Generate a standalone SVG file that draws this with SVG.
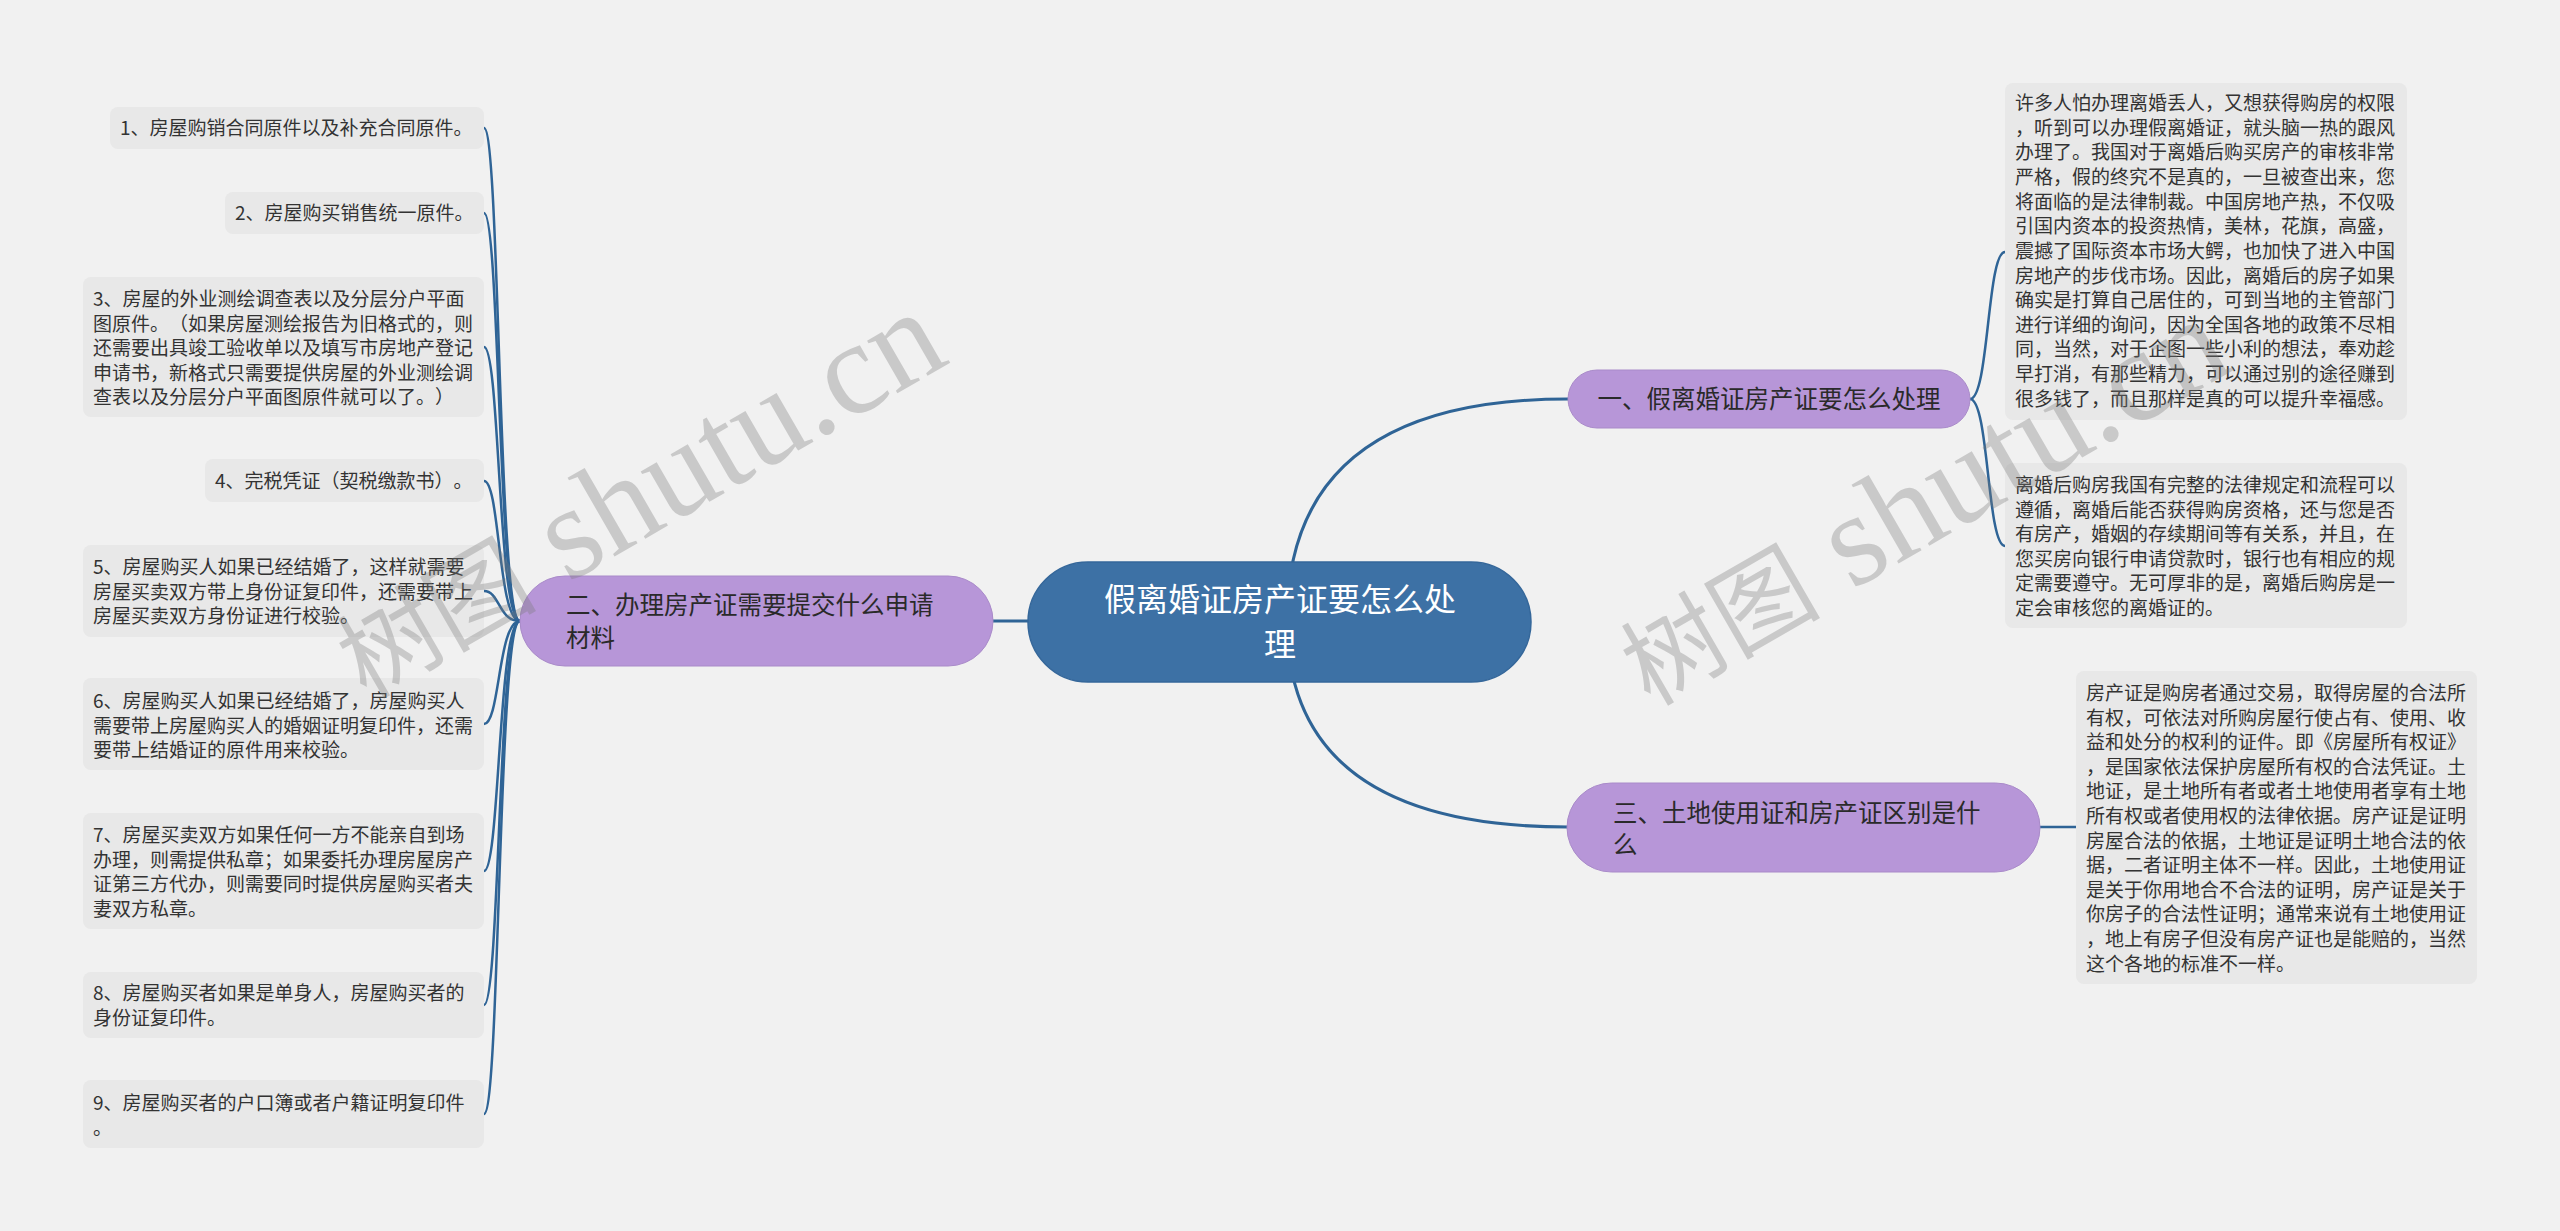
<svg xmlns="http://www.w3.org/2000/svg" width="2560" height="1231" viewBox="0 0 2560 1231">
<style>
text{text-spacing-trim:space-all}
.bg{fill:#f1f1f1}
.leaf rect{fill:#e8e8e8}
.leaf text{font-family:"Noto Sans CJK SC","Noto Sans",sans-serif;font-size:19px;fill:#333}
.l1 rect{fill:#b796d8;stroke:#a98ac9;stroke-width:1}
.l1 text{font-family:"Noto Sans CJK SC","Noto Sans",sans-serif;font-size:24.5px;fill:#2a2a2a}
.root rect{fill:#3d71a5;stroke:#35679a;stroke-width:1.5}
.root text{font-family:"Noto Sans CJK SC","Noto Sans",sans-serif;font-size:32px;fill:#ffffff;text-anchor:middle}
.conn path{fill:none;stroke:#2f6496;stroke-width:2.5}
.conn .main{stroke-width:3}
.wm{font-family:"Liberation Serif","Noto Sans CJK SC",serif;font-size:132px;fill:#7a7a7a;opacity:0.33}
</style>
<rect class="bg" x="0" y="0" width="2560" height="1231"/>

<g id="connectors" class="conn">
  <path class="main" d="M1287 621 Q1287 399 1568 399"/>
  <path class="main" d="M1287 621 Q1287 827 1568 827"/>
  <path class="main" d="M993 621 L1030 621"/>
  <path d="M520 621 C498 621 500 128 484 128"/>
  <path d="M520 621 C498 621 500 213 484 213"/>
  <path d="M520 621 C498 621 500 347 484 347"/>
  <path d="M520 621 C498 621 500 481 484 481"/>
  <path d="M520 621 C498 621 500 591 484 591"/>
  <path d="M520 621 C498 621 500 724 484 724"/>
  <path d="M520 621 C498 621 500 871 484 871"/>
  <path d="M520 621 C498 621 500 1005 484 1005"/>
  <path d="M520 621 C498 621 500 1114 484 1114"/>
  <path d="M1970 399 C1989 399 1987 252 2005 252"/>
  <path d="M1970 399 C1989 399 1987 546 2005 546"/>
  <path d="M2040 827 L2076 827"/>
</g>

<g id="root" class="root">
  <rect x="1028" y="562" width="503" height="120" rx="60"/>
  <text x="1280" y="611">假离婚证房产证要怎么处<tspan x="1280" dy="45">理</tspan></text>
</g>

<g id="n1" class="l1">
  <rect x="1568" y="370" width="402" height="58" rx="29"/>
  <text x="1769" y="408" text-anchor="middle">一、假离婚证房产证要怎么处理</text>
</g>
<g id="n2" class="l1">
  <rect x="520" y="576" width="473" height="90" rx="45"/>
  <text x="566" y="614">二、办理房产证需要提交什么申请<tspan x="566" dy="33">材料</tspan></text>
</g>
<g id="n3" class="l1">
  <rect x="1567" y="783" width="473" height="89" rx="44.5"/>
  <text x="1613" y="822">三、土地使用证和房产证区别是什<tspan x="1613" dy="32">么</tspan></text>
</g>

<g id="leaf1" class="leaf">
  <rect x="110" y="107" width="374" height="42" rx="8"/>
  <text x="120" y="135">1、房屋购销合同原件以及补充合同原件。</text>
</g>
<g id="leaf2" class="leaf">
  <rect x="225" y="192" width="259" height="42" rx="8"/>
  <text x="235" y="220">2、房屋购买销售统一原件。</text>
</g>
<g id="leaf3" class="leaf">
  <rect x="83" y="277" width="401" height="140" rx="8"/>
  <text x="93" y="306">3、房屋的外业测绘调查表以及分层分户平面<tspan x="93" dy="24.6">图原件。（如果房屋测绘报告为旧格式的，则</tspan><tspan x="93" dy="24.6">还需要出具竣工验收单以及填写市房地产登记</tspan><tspan x="93" dy="24.6">申请书，新格式只需要提供房屋的外业测绘调</tspan><tspan x="93" dy="24.6">查表以及分层分户平面图原件就可以了。）</tspan></text>
</g>
<g id="leaf4" class="leaf">
  <rect x="205" y="459" width="279" height="43" rx="8"/>
  <text x="215" y="488">4、完税凭证（契税缴款书）。</text>
</g>
<g id="leaf5" class="leaf">
  <rect x="83" y="545" width="401" height="92" rx="8"/>
  <text x="93" y="574">5、房屋购买人如果已经结婚了，这样就需要<tspan x="93" dy="24.6">房屋买卖双方带上身份证复印件，还需要带上</tspan><tspan x="93" dy="24.6">房屋买卖双方身份证进行校验。</tspan></text>
</g>
<g id="leaf6" class="leaf">
  <rect x="83" y="678" width="401" height="92" rx="8"/>
  <text x="93" y="708">6、房屋购买人如果已经结婚了，房屋购买人<tspan x="93" dy="24.6">需要带上房屋购买人的婚姻证明复印件，还需</tspan><tspan x="93" dy="24.6">要带上结婚证的原件用来校验。</tspan></text>
</g>
<g id="leaf7" class="leaf">
  <rect x="83" y="813" width="401" height="116" rx="8"/>
  <text x="93" y="842">7、房屋买卖双方如果任何一方不能亲自到场<tspan x="93" dy="24.6">办理，则需提供私章；如果委托办理房屋房产</tspan><tspan x="93" dy="24.6">证第三方代办，则需要同时提供房屋购买者夫</tspan><tspan x="93" dy="24.6">妻双方私章。</tspan></text>
</g>
<g id="leaf8" class="leaf">
  <rect x="83" y="972" width="401" height="66" rx="8"/>
  <text x="93" y="1000">8、房屋购买者如果是单身人，房屋购买者的<tspan x="93" dy="24.6">身份证复印件。</tspan></text>
</g>
<g id="leaf9" class="leaf">
  <rect x="83" y="1080" width="401" height="68" rx="8"/>
  <text x="93" y="1110">9、房屋购买者的户口簿或者户籍证明复印件<tspan x="93" dy="24.6">。</tspan></text>
</g>

<g id="leaf10" class="leaf">
  <rect x="2005" y="83" width="402" height="337" rx="8"/>
  <text x="2015" y="110">许多人怕办理离婚丢人，又想获得购房的权限<tspan x="2015" dy="24.65">，听到可以办理假离婚证，就头脑一热的跟风</tspan><tspan x="2015" dy="24.65">办理了。我国对于离婚后购买房产的审核非常</tspan><tspan x="2015" dy="24.65">严格，假的终究不是真的，一旦被查出来，您</tspan><tspan x="2015" dy="24.65">将面临的是法律制裁。中国房地产热，不仅吸</tspan><tspan x="2015" dy="24.65">引国内资本的投资热情，美林，花旗，高盛，</tspan><tspan x="2015" dy="24.65">震撼了国际资本市场大鳄，也加快了进入中国</tspan><tspan x="2015" dy="24.65">房地产的步伐市场。因此，离婚后的房子如果</tspan><tspan x="2015" dy="24.65">确实是打算自己居住的，可到当地的主管部门</tspan><tspan x="2015" dy="24.65">进行详细的询问，因为全国各地的政策不尽相</tspan><tspan x="2015" dy="24.65">同，当然，对于企图一些小利的想法，奉劝趁</tspan><tspan x="2015" dy="24.65">早打消，有那些精力，可以通过别的途径赚到</tspan><tspan x="2015" dy="24.65">很多钱了，而且那样是真的可以提升幸福感。</tspan></text>
</g>
<g id="leaf11" class="leaf">
  <rect x="2005" y="463" width="402" height="165" rx="8"/>
  <text x="2015" y="492">离婚后购房我国有完整的法律规定和流程可以<tspan x="2015" dy="24.6">遵循，离婚后能否获得购房资格，还与您是否</tspan><tspan x="2015" dy="24.6">有房产，婚姻的存续期间等有关系，并且，在</tspan><tspan x="2015" dy="24.6">您买房向银行申请贷款时，银行也有相应的规</tspan><tspan x="2015" dy="24.6">定需要遵守。无可厚非的是，离婚后购房是一</tspan><tspan x="2015" dy="24.6">定会审核您的离婚证的。</tspan></text>
</g>
<g id="leaf12" class="leaf">
  <rect x="2076" y="671" width="401" height="313" rx="8"/>
  <text x="2086" y="700">房产证是购房者通过交易，取得房屋的合法所<tspan x="2086" dy="24.6">有权，可依法对所购房屋行使占有、使用、收</tspan><tspan x="2086" dy="24.6">益和处分的权利的证件。即《房屋所有权证》</tspan><tspan x="2086" dy="24.6">，是国家依法保护房屋所有权的合法凭证。土</tspan><tspan x="2086" dy="24.6">地证，是土地所有者或者土地使用者享有土地</tspan><tspan x="2086" dy="24.6">所有权或者使用权的法律依据。房产证是证明</tspan><tspan x="2086" dy="24.6">房屋合法的依据，土地证是证明土地合法的依</tspan><tspan x="2086" dy="24.6">据，二者证明主体不一样。因此，土地使用证</tspan><tspan x="2086" dy="24.6">是关于你用地合不合法的证明，房产证是关于</tspan><tspan x="2086" dy="24.6">你房子的合法性证明；通常来说有土地使用证</tspan><tspan x="2086" dy="24.6">，地上有房子但没有房产证也是能赔的，当然</tspan><tspan x="2086" dy="24.6">这个各地的标准不一样。</tspan></text>
</g>

<g id="watermarks">
  <text class="wm" transform="translate(366 700) rotate(-30)"><tspan font-size="100">树图</tspan> shutu.cn</text>
  <text class="wm" transform="translate(1650 707) rotate(-30)"><tspan font-size="100">树图</tspan> shutu.cn</text>
</g>
</svg>
